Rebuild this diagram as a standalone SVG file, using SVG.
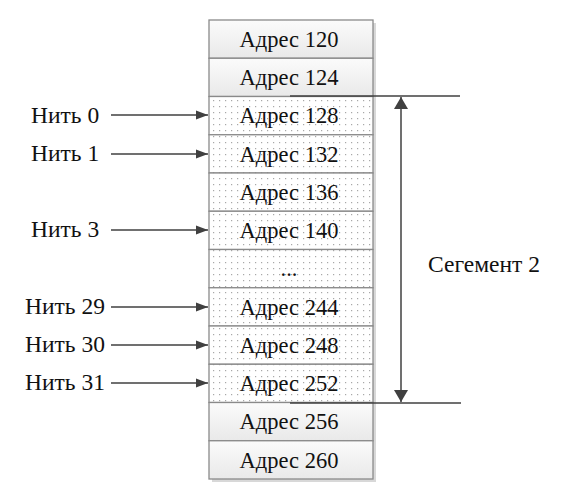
<svg xmlns="http://www.w3.org/2000/svg" width="575" height="493" viewBox="0 0 575 493">
<defs>
<linearGradient id="g" x1="0" y1="0" x2="0" y2="1"><stop offset="0" stop-color="#fbfbfb"/><stop offset="1" stop-color="#e9e9e9"/></linearGradient>
<pattern id="dots" width="6" height="6" patternUnits="userSpaceOnUse" x="211" y="98"><rect width="6" height="6" fill="#fff"/><rect x="2" y="2" width="1.2" height="1.2" fill="#a8a8a8"/></pattern>
<marker id="ah" viewBox="0 0 12 10" refX="12" refY="5" markerWidth="12" markerHeight="10" markerUnits="userSpaceOnUse" orient="auto-start-reverse"><path d="M0,0.5 L12,5 L0,9.5 Z" fill="#404040"/></marker>
<marker id="ah2" viewBox="0 0 12 16" refX="12" refY="8" markerWidth="12" markerHeight="16" markerUnits="userSpaceOnUse" orient="auto-start-reverse"><path d="M0,1 L12,8 L0,15 Z" fill="#404040"/></marker>
</defs>
<style>
.cell{stroke:#8a8a8a;stroke-width:1.3}
.plain{fill:url(#g)}
.dot{fill:url(#dots)}
text{font-family:"Liberation Serif","Times New Roman",serif;font-size:22.5px;fill:#111}
.c{text-anchor:middle}
.lb{font-size:23.5px}
.ln{stroke:#404040;stroke-width:1.5;fill:none}
</style>
<rect x="212" y="23" width="164" height="459" fill="#d8d8d8"/>
<g id="a120"><rect class="cell plain" x="209" y="20" width="164" height="38.25"/><text class="c" x="289" y="47">Адрес 120</text></g>
<g id="a124"><rect class="cell plain" x="209" y="58.25" width="164" height="38.25"/><text class="c" x="289" y="85">Адрес 124</text></g>
<g id="a128"><rect class="cell dot" x="209" y="96.5" width="164" height="38.25"/><text class="c" x="289" y="123">Адрес 128</text></g>
<g id="a132"><rect class="cell dot" x="209" y="134.75" width="164" height="38.25"/><text class="c" x="289" y="162">Адрес 132</text></g>
<g id="a136"><rect class="cell dot" x="209" y="173" width="164" height="38.25"/><text class="c" x="289" y="200">Адрес 136</text></g>
<g id="a140"><rect class="cell dot" x="209" y="211.25" width="164" height="38.25"/><text class="c" x="289" y="238">Адрес 140</text></g>
<g id="adots"><rect class="cell dot" x="209" y="249.5" width="164" height="38.25"/><text class="c" x="289" y="276">...</text></g>
<g id="a244"><rect class="cell dot" x="209" y="287.75" width="164" height="38.25"/><text class="c" x="289" y="315">Адрес 244</text></g>
<g id="a248"><rect class="cell dot" x="209" y="326" width="164" height="38.25"/><text class="c" x="289" y="353">Адрес 248</text></g>
<g id="a252"><rect class="cell dot" x="209" y="364.25" width="164" height="38.25"/><text class="c" x="289" y="391">Адрес 252</text></g>
<g id="a256"><rect class="cell plain" x="209" y="402.5" width="164" height="38.25"/><text class="c" x="289" y="429">Адрес 256</text></g>
<g id="a260"><rect class="cell plain" x="209" y="440.75" width="164" height="38.25"/><text class="c" x="289" y="468">Адрес 260</text></g>
<g id="t0"><text class="lb" x="31" y="123">Нить 0</text></g>
<g id="t1"><text class="lb" x="31" y="161">Нить 1</text></g>
<g id="t3"><text class="lb" x="31" y="237">Нить 3</text></g>
<g id="t29"><text class="lb" x="25" y="314">Нить 29</text></g>
<g id="t30"><text class="lb" x="25" y="352">Нить 30</text></g>
<g id="t31"><text class="lb" x="25" y="390">Нить 31</text></g>
<g id="seg"><text class="lb" x="428" y="272">Сегемент 2</text></g>
<g id="connectors">
<line class="ln" x1="111" y1="115" x2="208" y2="115" marker-end="url(#ah)"/>
<line class="ln" x1="111" y1="154" x2="208" y2="154" marker-end="url(#ah)"/>
<line class="ln" x1="111" y1="230" x2="208" y2="230" marker-end="url(#ah)"/>
<line class="ln" x1="111" y1="307" x2="208" y2="307" marker-end="url(#ah)"/>
<line class="ln" x1="111" y1="345" x2="208" y2="345" marker-end="url(#ah)"/>
<line class="ln" x1="111" y1="383" x2="208" y2="383" marker-end="url(#ah)"/>
<line class="ln" x1="290" y1="96" x2="460" y2="96"/>
<line class="ln" x1="290" y1="403" x2="461" y2="403"/>
<line class="ln" x1="401" y1="97" x2="401" y2="402" marker-start="url(#ah2)" marker-end="url(#ah2)"/>
</g>
</svg>
